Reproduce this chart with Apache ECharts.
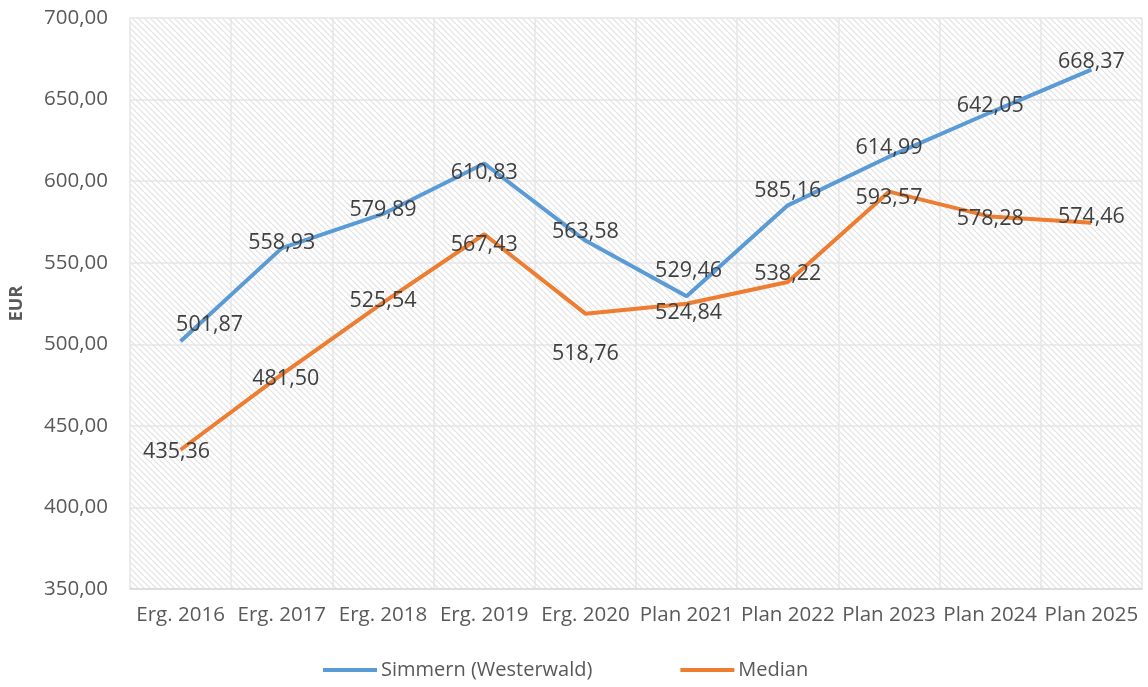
<!DOCTYPE html>
<html>
<head>
<meta charset="utf-8">
<script src="https://cdn.jsdelivr.net/npm/echarts@6/dist/echarts.min.js"></script>
<style>
  html, body { margin: 0; padding: 0; background: #fff; }
  #chart { width: 1148px; height: 687px; }
</style>
</head>
<body>
<div id="chart"></div>
<script>
// Kategorien und Werte
const categories = ['Erg. 2016', 'Erg. 2017', 'Erg. 2018', 'Erg. 2019', 'Erg. 2020',
  'Plan 2021', 'Plan 2022', 'Plan 2023', 'Plan 2024', 'Plan 2025'];
const simmernValues = [501.87, 558.93, 579.89, 610.83, 563.58, 529.46, 585.16, 614.99, 642.05, 668.37];
const medianValues = [435.36, 481.50, 525.54, 567.43, 518.76, 524.84, 538.22, 593.57, 578.28, 574.46];
const yTicks = [350, 400, 450, 500, 550, 600, 650, 700];

// Label-Verschiebungen (wie im Excel-Original manuell gesetzt)
const simmernOffsets = [[29, -16], [0, -5], [0, -4], [0, 9], [0, -9], [2, -25], [0, -14], [0, -9], [0, -7], [0, -8]];
const medianOffsets = [[-4, 2], [4, 4], [0, -2], [0, 11], [0, 40], [2, 9], [0, -8], [0, 6], [0, 2], [0, -6]];

const fmt = v => v.toFixed(2).replace('.', ',');

// schraffierter Hintergrund
function makeHatch() {
  const c = document.createElement('canvas');
  c.width = 6; c.height = 6;
  const ctx = c.getContext('2d');
  ctx.fillStyle = '#ffffff';
  ctx.fillRect(0, 0, 6, 6);
  ctx.strokeStyle = '#e2e2e2';
  ctx.lineWidth = 1.2;
  ctx.beginPath();
  ctx.moveTo(-1, -1); ctx.lineTo(7, 7);
  ctx.moveTo(-4, 2); ctx.lineTo(4, 10);
  ctx.moveTo(2, -4); ctx.lineTo(10, 4);
  ctx.stroke();
  return c;
}

const chart = echarts.init(document.getElementById('chart'), null, { renderer: 'canvas' });

const labelFont = { fontFamily: 'Open Sans', fontSize: 21.5, color: '#404040' };

function buildData(values, offsets) {
  return values.map((v, i) => ({
    value: v,
    label: { offset: offsets[i] }
  }));
}

const option = {
  animation: false,
  backgroundColor: '#ffffff',
  textStyle: { fontFamily: 'Open Sans' },
  grid: {
    left: 129, right: 6, top: 18, bottom: 98,
    show: true,
    borderWidth: 0,
    backgroundColor: { image: makeHatch(), repeat: 'repeat' }
  },
  legend: {
    bottom: 2,
    left: 318,
    itemGap: 88,
    itemWidth: 54,
    itemHeight: 4,
    icon: 'rect',
    textStyle: { fontSize: 20, color: '#595959', fontFamily: 'Open Sans', padding: [0, 0, 0, -1] },
    data: ['Simmern (Westerwald)', 'Median']
  },
  xAxis: {
    type: 'category',
    data: categories,
    boundaryGap: true,
    axisLine: { lineStyle: { color: '#d9d9d9', width: 1.5 } },
    axisTick: { show: false },
    axisLabel: { color: '#595959', fontSize: 20.5, margin: 16, fontFamily: 'Open Sans', interval: 0 },
    splitLine: { show: true, interval: 0, lineStyle: { color: '#e6e6e6', width: 1.5 } }
  },
  yAxis: {
    type: 'value',
    min: yTicks[0],
    max: yTicks[yTicks.length - 1],
    interval: 50,
    name: 'EUR',
    nameLocation: 'middle',
    nameGap: 104,
    nameRotate: 90,
    nameTextStyle: { fontSize: 18, fontWeight: 'bold', color: '#595959', fontFamily: 'Open Sans' },
    axisLine: { show: false },
    axisTick: { show: false },
    axisLabel: { color: '#595959', fontSize: 20.5, margin: 22, fontFamily: 'Open Sans', formatter: v => fmt(v) },
    splitLine: { show: true, lineStyle: { color: '#e6e6e6', width: 1.5 } }
  },
  series: [
    {
      name: 'Simmern (Westerwald)',
      type: 'line',
      data: buildData(simmernValues, simmernOffsets),
      symbol: 'circle',
      symbolSize: 0,
      showSymbol: true,
      lineStyle: { color: '#5b9bd5', width: 4 },
      itemStyle: { color: '#5b9bd5' },
      label: { show: true, position: 'inside', formatter: p => fmt(p.value), ...labelFont },
      z: 3
    },
    {
      name: 'Median',
      type: 'line',
      data: buildData(medianValues, medianOffsets),
      symbol: 'circle',
      symbolSize: 0,
      showSymbol: true,
      lineStyle: { color: '#ed7d31', width: 4 },
      itemStyle: { color: '#ed7d31' },
      label: { show: true, position: 'inside', formatter: p => fmt(p.value), ...labelFont },
      z: 2
    }
  ]
};

chart.setOption(option);
</script>
</body>
</html>
